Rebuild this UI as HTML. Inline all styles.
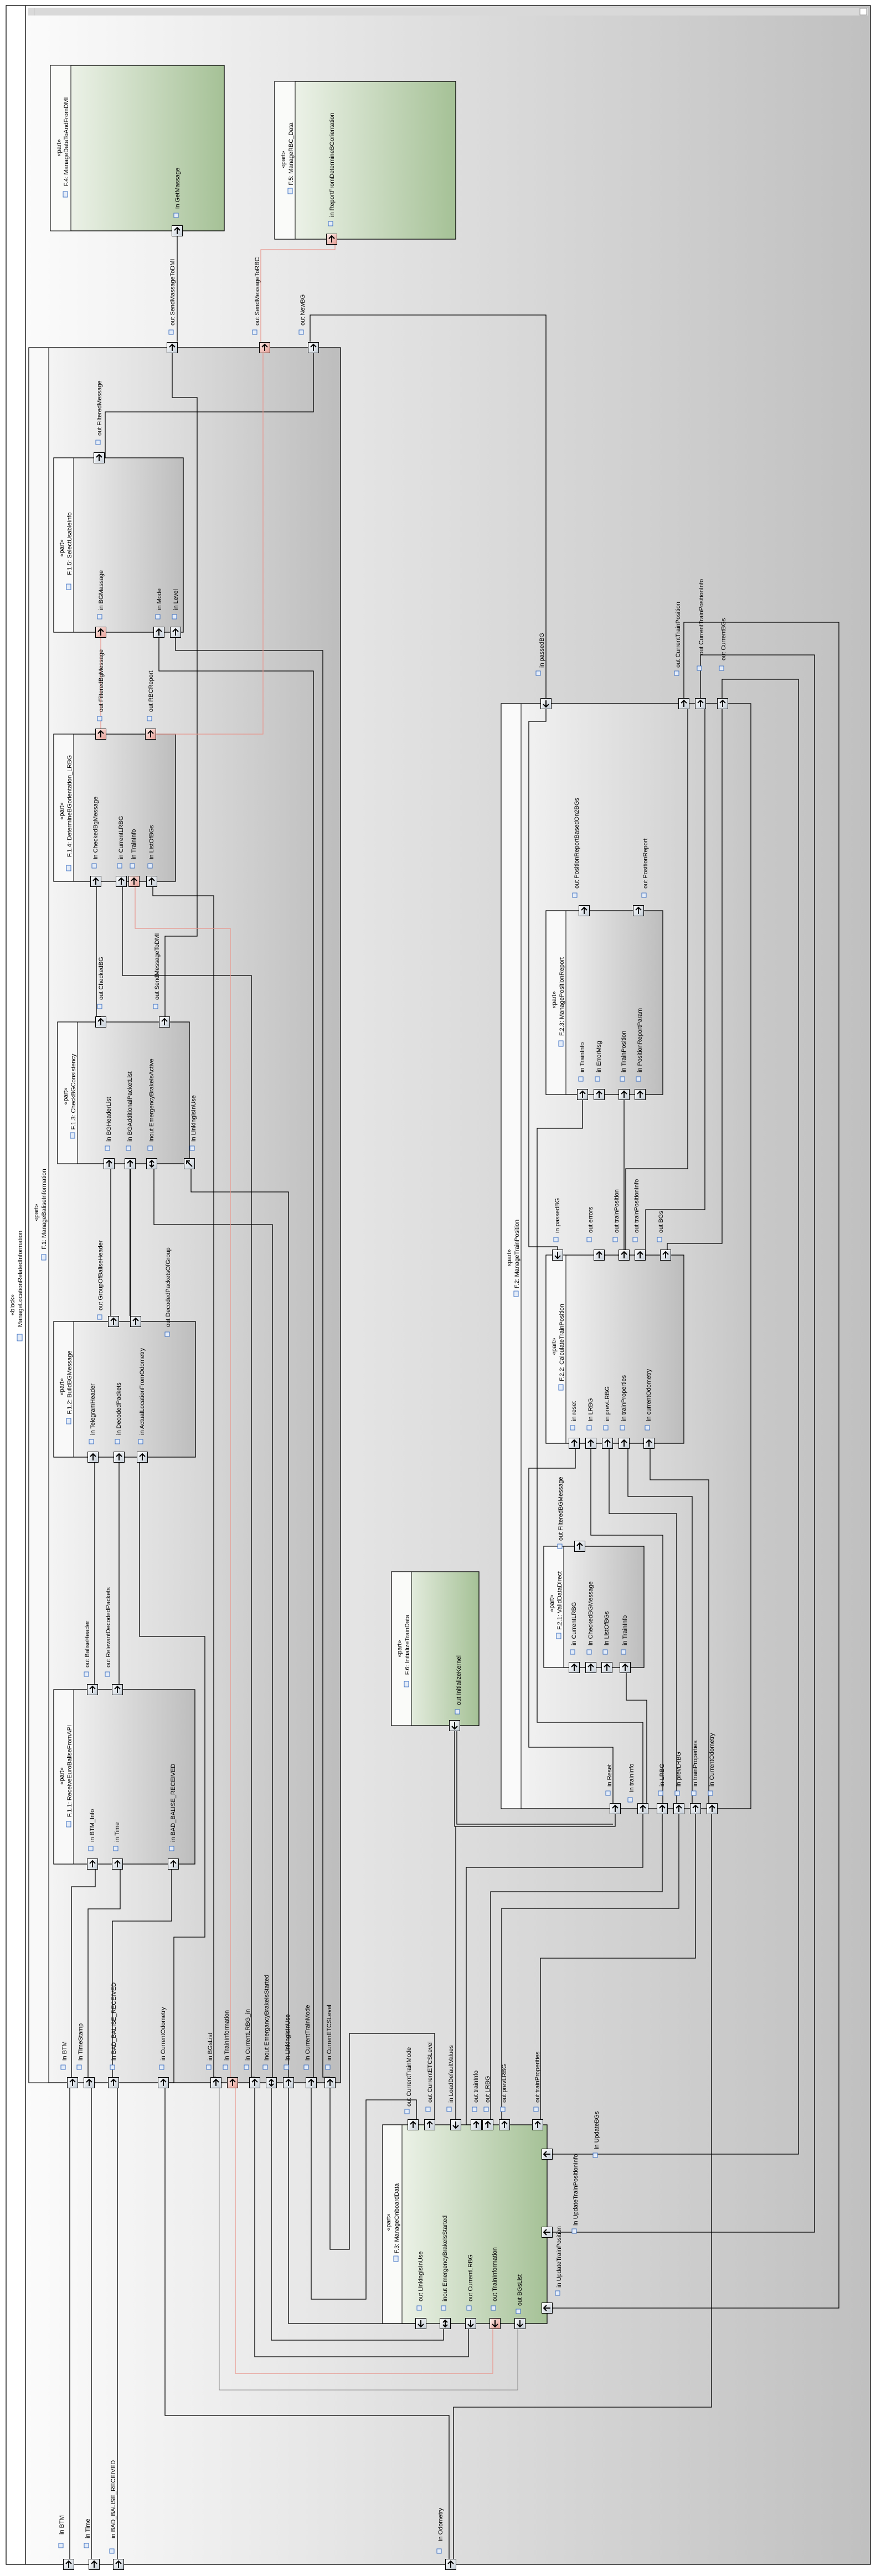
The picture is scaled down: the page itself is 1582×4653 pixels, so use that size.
<!DOCTYPE html>
<html><head><meta charset="utf-8"><style>
html,body{margin:0;padding:0;background:#fff}
svg{display:block}
text{font-family:"Liberation Sans","DejaVu Sans",sans-serif;font-size:11px;fill:#000}
.w{fill:none;stroke:#000;stroke-width:1.3}
.r{fill:none;stroke:#e8958c;stroke-width:1.2}
.g{fill:none;stroke:#888;stroke-width:1}
.ic{fill:#e4ecf8;stroke:#3b6fc2;stroke-width:1}
</style></head><body>
<svg width="1582" height="4653" viewBox="0 0 1582 4653" xmlns="http://www.w3.org/2000/svg">
<defs>
<linearGradient id="bg" x1="0" x2="1" y1="0" y2="0"><stop offset="0" stop-color="#fbfbfb"/><stop offset="1" stop-color="#c0c0c0"/></linearGradient>
<linearGradient id="gpart" x1="0" x2="1" y1="0" y2="0"><stop offset="0" stop-color="#f8f8f8"/><stop offset="1" stop-color="#bdbdbd"/></linearGradient>
<linearGradient id="gf2" x1="0" x2="1" y1="0" y2="0"><stop offset="0" stop-color="#f6f6f6"/><stop offset="1" stop-color="#c6c6c6"/></linearGradient>
<linearGradient id="ggr" x1="0" x2="1" y1="0" y2="0"><stop offset="0" stop-color="#f5f8f2"/><stop offset="1" stop-color="#a5c196"/></linearGradient>
<linearGradient id="gp" x1="0" x2="1" y1="0" y2="1"><stop offset="0" stop-color="#ffffff"/><stop offset="1" stop-color="#c3ccd6"/></linearGradient>
<linearGradient id="gpr" x1="0" x2="1" y1="0" y2="1"><stop offset="0" stop-color="#fdeeea"/><stop offset="1" stop-color="#e69d94"/></linearGradient>
<g id="pu"><rect x="-9.5" y="-9.5" width="19" height="19" fill="url(#gp)" stroke="#000"/><path d="M0 6V-6M-5 -1L0 -6L5 -1" stroke="#000" stroke-width="2" fill="none"/></g>
<g id="pur"><rect x="-9.5" y="-9.5" width="19" height="19" fill="url(#gpr)" stroke="#000"/><path d="M0 6V-6M-5 -1L0 -6L5 -1" stroke="#000" stroke-width="2" fill="none"/></g>
<g id="pd"><rect x="-9.5" y="-9.5" width="19" height="19" fill="url(#gp)" stroke="#000"/><path d="M0 -6V6M-5 1L0 6L5 1" stroke="#000" stroke-width="2" fill="none"/></g>
<g id="pdr"><rect x="-9.5" y="-9.5" width="19" height="19" fill="url(#gpr)" stroke="#000"/><path d="M0 -6V6M-5 1L0 6L5 1" stroke="#000" stroke-width="2" fill="none"/></g>
<g id="pl"><rect x="-9.5" y="-9.5" width="19" height="19" fill="url(#gp)" stroke="#000"/><path d="M6 0H-6M-1 -5L-6 0L-1 5" stroke="#000" stroke-width="2" fill="none"/></g>
<g id="pb"><rect x="-9.5" y="-9.5" width="19" height="19" fill="url(#gp)" stroke="#000"/><path d="M0 -6V6M-4 -2L0 -6L4 -2M-4 2L0 6L4 2" stroke="#000" stroke-width="2" fill="none"/></g>
<g id="px"><rect x="-9.5" y="-9.5" width="19" height="19" fill="url(#gp)" stroke="#000"/><path d="M-5 -5L5 5M-5 1V-5H1" stroke="#000" stroke-width="2" fill="none"/></g>
</defs>

<rect x="0" y="0" width="1582" height="4653" fill="#fff"/>
<rect x="46" y="10" width="1526" height="4622" fill="url(#bg)"/>
<rect x="11" y="10" width="1561" height="4622" fill="none" stroke="#000" stroke-width="1.3"/>
<line x1="46" y1="10" x2="46" y2="4632" stroke="#000" stroke-width="1.3"/>
<rect x="51" y="14" width="1517" height="14" fill="#d9d9d9"/>
<line x1="62" y1="14" x2="62" y2="28" stroke="#c8c8c8"/>
<rect x="1553" y="15" width="12" height="12" fill="#fff" stroke="#999"/>
<text transform="translate(26,2357) rotate(-90)" text-anchor="middle">«block»</text>
<text transform="translate(40,2310) rotate(-90)" text-anchor="middle">ManageLocationRelatedInformation</text>
<rect x="31" y="2410" width="9" height="12" class="ic"/>

<rect x="91" y="118" width="314" height="299" fill="url(#ggr)" stroke="#000" stroke-width="1.3"/>
<rect x="91.5" y="118.5" width="36.5" height="298" fill="#fafbf9"/>
<line x1="128" y1="118" x2="128" y2="417" stroke="#000"/>
<text transform="translate(110,267) rotate(-90)" text-anchor="middle">«part»</text>
<text transform="translate(123,256) rotate(-90)" text-anchor="middle">F.4: ManageDataToAndFromDMI</text>
<rect x="114" y="346" width="8" height="10" class="ic"/>
<rect x="496" y="147" width="327" height="285" fill="url(#ggr)" stroke="#000" stroke-width="1.3"/>
<rect x="496.5" y="147.5" width="36.5" height="284" fill="#fafbf9"/>
<line x1="533" y1="147" x2="533" y2="432" stroke="#000"/>
<text transform="translate(515,288) rotate(-90)" text-anchor="middle">«part»</text>
<text transform="translate(529,278) rotate(-90)" text-anchor="middle">F.5: ManageRBC_Data</text>
<rect x="520" y="340" width="8" height="10" class="ic"/>

<rect x="52" y="628" width="563" height="3134" fill="url(#gpart)" stroke="#000" stroke-width="1.3"/>
<rect x="52.5" y="628.5" width="35.5" height="3133" fill="#f9f9f9"/>
<line x1="88" y1="628" x2="88" y2="3762" stroke="#000"/>
<text transform="translate(69,2190) rotate(-90)" text-anchor="middle">«part»</text>
<text transform="translate(83,2184) rotate(-90)" text-anchor="middle">F.1: ManageBaliseInformation</text>
<rect x="75" y="2266" width="8" height="10" class="ic"/>

<g stroke="#000" stroke-width="1.3">
<rect x="97" y="827" width="234" height="315" fill="url(#gpart)"/>
<rect x="97" y="1326" width="220" height="266" fill="url(#gpart)"/>
<rect x="104" y="1846" width="238" height="256" fill="url(#gpart)"/>
<rect x="97" y="2387" width="256" height="245" fill="url(#gpart)"/>
<rect x="97" y="3052" width="255" height="315" fill="url(#gpart)"/>
</g>
<g fill="#f9f9f9">
<rect x="97.7" y="827.7" width="35" height="313.6"/>
<rect x="97.7" y="1326.7" width="35" height="264.6"/>
<rect x="104.7" y="1846.7" width="35" height="254.6"/>
<rect x="97.7" y="2387.7" width="35" height="243.6"/>
<rect x="97.7" y="3052.7" width="35" height="313.6"/>
</g>
<g stroke="#000">
<line x1="133" y1="827" x2="133" y2="1142"/>
<line x1="133" y1="1326" x2="133" y2="1592"/>
<line x1="140" y1="1846" x2="140" y2="2102"/>
<line x1="133" y1="2387" x2="133" y2="2632"/>
<line x1="133" y1="3052" x2="133" y2="3367"/>
</g>
<text transform="translate(115,990) rotate(-90)" text-anchor="middle">«part»</text>
<text transform="translate(129,982) rotate(-90)" text-anchor="middle">F.1.5: SelectUsableInfo</text>
<rect x="120" y="1055" width="8" height="10" class="ic"/>
<text transform="translate(115,1465) rotate(-90)" text-anchor="middle">«part»</text>
<text transform="translate(129,1456) rotate(-90)" text-anchor="middle">F.1.4: DetermineBGorientation_LRBG</text>
<rect x="120" y="1563" width="8" height="10" class="ic"/>
<text transform="translate(122,1980) rotate(-90)" text-anchor="middle">«part»</text>
<text transform="translate(136,1972) rotate(-90)" text-anchor="middle">F.1.3: CheckBGConsistency</text>
<rect x="127" y="2046" width="8" height="10" class="ic"/>
<text transform="translate(115,2505) rotate(-90)" text-anchor="middle">«part»</text>
<text transform="translate(129,2497) rotate(-90)" text-anchor="middle">F.1.2: BuildBGMessage</text>
<rect x="120" y="2562" width="8" height="10" class="ic"/>
<text transform="translate(115,3208) rotate(-90)" text-anchor="middle">«part»</text>
<text transform="translate(129,3199) rotate(-90)" text-anchor="middle">F.1.1: ReceiveEuroBaliseFromAPI</text>
<rect x="120" y="3290" width="8" height="10" class="ic"/>

<rect x="905" y="1271" width="451" height="1996" fill="url(#gf2)" stroke="#000" stroke-width="1.3"/>
<rect x="905.7" y="1271.7" width="35" height="1994.6" fill="#fafafa"/>
<line x1="941" y1="1271" x2="941" y2="3267" stroke="#000"/>
<text transform="translate(923,2272) rotate(-90)" text-anchor="middle">«part»</text>
<text transform="translate(937,2265) rotate(-90)" text-anchor="middle">F.2: ManageTrainPosition</text>
<rect x="928" y="2332" width="8" height="10" class="ic"/>
<g stroke="#000" stroke-width="1.3">
<rect x="986" y="1645" width="211" height="332" fill="url(#gpart)"/>
<rect x="986" y="2267" width="249" height="340" fill="url(#gpart)"/>
<rect x="982" y="2793" width="181" height="219" fill="url(#gpart)"/>
</g>
<g fill="#f9f9f9">
<rect x="986.7" y="1645.7" width="35" height="330.6"/>
<rect x="986.7" y="2267.7" width="35" height="338.6"/>
<rect x="982.7" y="2793.7" width="35" height="217.6"/>
</g>
<g stroke="#000">
<line x1="1022" y1="1645" x2="1022" y2="1977"/>
<line x1="1022" y1="2267" x2="1022" y2="2607"/>
<line x1="1018" y1="2793" x2="1018" y2="3012"/>
</g>
<text transform="translate(1004,1806) rotate(-90)" text-anchor="middle">«part»</text>
<text transform="translate(1018,1800) rotate(-90)" text-anchor="middle">F.2.3: ManagePositionReport</text>
<rect x="1009" y="1880" width="8" height="10" class="ic"/>
<text transform="translate(1004,2432) rotate(-90)" text-anchor="middle">«part»</text>
<text transform="translate(1018,2425) rotate(-90)" text-anchor="middle">F.2.2: CalculateTrainPosition</text>
<rect x="1009" y="2501" width="8" height="10" class="ic"/>
<text transform="translate(1000,2896) rotate(-90)" text-anchor="middle">«part»</text>
<text transform="translate(1014,2891) rotate(-90)" text-anchor="middle">F.2.1: ValidDataDirect</text>
<rect x="1005" y="2950" width="8" height="10" class="ic"/>

<rect x="707" y="2839" width="158" height="278" fill="url(#ggr)" stroke="#000" stroke-width="1.3"/>
<rect x="707.7" y="2839.7" width="35" height="276.6" fill="#fafbf9"/>
<line x1="743" y1="2839" x2="743" y2="3117" stroke="#000"/>
<text transform="translate(725,2978) rotate(-90)" text-anchor="middle">«part»</text>
<text transform="translate(739,2971) rotate(-90)" text-anchor="middle">F.6: InitializeTrainData</text>
<rect x="730" y="3037" width="8" height="10" class="ic"/>

<rect x="691" y="3838" width="297" height="359" fill="url(#ggr)" stroke="#000" stroke-width="1.3"/>
<rect x="691.7" y="3838.7" width="34" height="357.6" fill="#fafbf9"/>
<line x1="726" y1="3838" x2="726" y2="4197" stroke="#000"/>
<text transform="translate(705,4014) rotate(-90)" text-anchor="middle">«part»</text>
<text transform="translate(720,4007) rotate(-90)" text-anchor="middle">F.3: ManageOnboardData</text>
<rect x="711" y="4075" width="8" height="10" class="ic"/>

<g class="w">
<polyline points="320,427 320,617"/>
<polyline points="560,617 560,569 986,569 986,1261"/>
<polyline points="311,637 311,718 356,718 356,1691 298,1691 298,1836"/>
<polyline points="566,637 566,744 190,744 190,827 189,827"/>
<polyline points="287,1152 287,1212 566,1212 566,3762"/>
<polyline points="317,1152 317,1175 583,1175 583,3752 596,3752"/>
<polyline points="174,1602 174,1836 182,1836"/>
<polyline points="221,1602 221,1762 454,1762 454,3752 460,3752"/>
<polyline points="276,1602 276,1618 386,1618 386,3752 390,3752"/>
<polyline points="200,2112 200,2377"/>
<polyline points="235,2112 235,2377" stroke-width="2.2"/>
<polyline points="278,2112 278,2212 492,2212 492,3752"/>
<polyline points="345,2112 345,2153 521,2153 521,3752"/>
<polyline points="171,2642 171,3042"/>
<polyline points="215,2642 215,3042"/>
<polyline points="252,2642 252,2956 370,2956 370,3499 314,3499 314,3762 305,3762"/>
<polyline points="172,3377 172,3408 129,3408 129,3752"/>
<polyline points="217,3377 217,3448 159,3448 159,3752"/>
<polyline points="310,3377 310,3470 203,3470 203,3752"/>
<polyline points="126,3772 126,4622"/>
<polyline points="165,3772 165,4622"/>
<polyline points="212,3772 212,4622"/>
<polyline points="298,3772 298,4363 811,4363 811,4622"/>
<polyline points="1285,3277 1285,4348 819,4348 819,4622"/>
<polyline points="562,3772 562,4153 661,4153 661,3793 752,3793 752,3828"/>
<polyline points="596,3772 596,4063 631,4063 631,3673 785,3673 785,3838 776,3838"/>
<polyline points="521,3772 521,4197 750,4197"/>
<polyline points="490,3772 490,4227 801,4227 801,4207"/>
<polyline points="460,3772 460,4257 846,4257 846,4207"/>
<polyline points="821,3127 821,3299 1111,3299 1111,3277"/>
<polyline points="825,3127 825,3295 1107,3295"/>
<polyline points="823,3299 823,3828"/>
<polyline points="1161,3277 1161,3373 842,3373 842,3838 850,3838"/>
<polyline points="1196,3277 1196,3417 886,3417 886,3828"/>
<polyline points="1226,3277 1226,3447 906,3447 906,3828 911,3828"/>
<polyline points="1256,3277 1256,3537 976,3537 976,3828"/>
<polyline points="998,3891 1442,3891 1442,1227 1304,1227 1304,1261"/>
<polyline points="998,4032 1471,4032 1471,1183 1265,1183 1265,1261"/>
<polyline points="998,4169 1515,4169 1515,1124 1235,1124 1235,1261"/>
<polyline points="986,1281 986,1303 955,1303 955,2252 1007,2252 1007,2257"/>
<polyline points="1039,2617 1039,2652 955,2652 955,3156 1107,3156 1107,3257"/>
<polyline points="1052,1987 1052,2038 970,2038 970,3111 1161,3111 1161,3257"/>
<polyline points="1131,3022 1131,3071 1168,3071 1168,3257"/>
<polyline points="1127,1987 1127,2257"/>
<polyline points="1242,1281 1242,2111 1130,2111 1130,2257"/>
<polyline points="1273,1281 1273,2185 1166,2185 1166,2257"/>
<polyline points="1304,1281 1304,2246 1205,2246 1205,2257"/>
<polyline points="1067,2617 1067,2773 1197,2773 1197,3257"/>
<polyline points="1100,2617 1100,2734 1222,2734 1222,3257"/>
<polyline points="1134,2617 1134,2703 1250,2703 1250,3257"/>
<polyline points="1174,2617 1174,2673 1280,2673 1280,3257"/>
</g>
<g class="r">
<polyline points="605,442 605,451 471,451 471,617"/>
<polyline points="182,1152 182,1316"/>
<polyline points="282,1326 475,1326 475,637"/>
<polyline points="244,1602 244,1677 416,1677 416,3752 420,3752"/>
<polyline points="425,3772 425,4287 890,4287 890,4207"/>
</g>
<polyline class="g" points="396,3772 396,4317 935,4317 935,4207"/>

<use href="#pu" x="320" y="417"/>
<use href="#pur" x="599" y="432"/>
<use href="#pu" x="311" y="628"/><use href="#pur" x="478" y="628"/><use href="#pu" x="566" y="628"/>
<use href="#pu" x="179" y="827"/>
<use href="#pur" x="182" y="1142"/><use href="#pu" x="287" y="1142"/><use href="#pu" x="317" y="1142"/>
<use href="#pur" x="182" y="1326"/><use href="#pur" x="272" y="1326"/>
<use href="#pu" x="173" y="1592"/><use href="#pu" x="219" y="1592"/><use href="#pur" x="242" y="1592"/><use href="#pu" x="274" y="1592"/>
<use href="#pu" x="182" y="1846"/><use href="#pu" x="297" y="1846"/>
<use href="#pu" x="197" y="2102"/><use href="#pu" x="235" y="2102"/><use href="#pb" x="274" y="2102"/><use href="#px" x="342" y="2102"/>
<use href="#pu" x="205" y="2387"/><use href="#pu" x="245" y="2387"/>
<use href="#pu" x="168" y="2632"/><use href="#pu" x="215" y="2632"/><use href="#pu" x="257" y="2632"/>
<use href="#pu" x="167" y="3052"/><use href="#pu" x="212" y="3052"/>
<use href="#pu" x="167" y="3367"/><use href="#pu" x="212" y="3367"/><use href="#pu" x="313" y="3367"/>
<use href="#pu" x="131" y="3762"/><use href="#pu" x="161" y="3762"/><use href="#pu" x="205" y="3762"/><use href="#pu" x="295" y="3762"/><use href="#pu" x="390" y="3762"/><use href="#pur" x="420" y="3762"/><use href="#pu" x="460" y="3762"/><use href="#pb" x="490" y="3762"/><use href="#pu" x="521" y="3762"/><use href="#pu" x="562" y="3762"/><use href="#pu" x="596" y="3762"/>
<use href="#pu" x="124" y="4632"/><use href="#pu" x="170" y="4632"/><use href="#pu" x="214" y="4632"/><use href="#pu" x="814" y="4632"/>
<use href="#pd" x="986" y="1271"/><use href="#pu" x="1235" y="1271"/><use href="#pu" x="1265" y="1271"/><use href="#pu" x="1305" y="1271"/>
<use href="#pu" x="1055" y="1645"/><use href="#pu" x="1153" y="1645"/>
<use href="#pu" x="1052" y="1977"/><use href="#pu" x="1082" y="1977"/><use href="#pu" x="1127" y="1977"/><use href="#pu" x="1156" y="1977"/>
<use href="#pd" x="1007" y="2267"/><use href="#pu" x="1082" y="2267"/><use href="#pu" x="1127" y="2267"/><use href="#pu" x="1156" y="2267"/><use href="#pu" x="1202" y="2267"/>
<use href="#pu" x="1037" y="2607"/><use href="#pu" x="1067" y="2607"/><use href="#pu" x="1097" y="2607"/><use href="#pu" x="1127" y="2607"/><use href="#pu" x="1172" y="2607"/>
<use href="#pu" x="1047" y="2793"/>
<use href="#pu" x="1037" y="3012"/><use href="#pu" x="1067" y="3012"/><use href="#pu" x="1096" y="3012"/><use href="#pu" x="1129" y="3012"/>
<use href="#pd" x="821" y="3117"/>
<use href="#pu" x="1111" y="3267"/><use href="#pu" x="1161" y="3267"/><use href="#pu" x="1196" y="3267"/><use href="#pu" x="1226" y="3267"/><use href="#pu" x="1256" y="3267"/><use href="#pu" x="1286" y="3267"/>
<use href="#pu" x="746" y="3838"/><use href="#pu" x="776" y="3838"/><use href="#pd" x="823" y="3838"/><use href="#pu" x="860" y="3838"/><use href="#pu" x="881" y="3838"/><use href="#pu" x="911" y="3838"/><use href="#pu" x="971" y="3838"/>
<use href="#pd" x="760" y="4197"/><use href="#pb" x="804" y="4197"/><use href="#pd" x="850" y="4197"/><use href="#pdr" x="894" y="4197"/><use href="#pd" x="939" y="4197"/>
<use href="#pl" x="988" y="3891"/><use href="#pl" x="988" y="4032"/><use href="#pl" x="988" y="4169"/>

<g>
<text transform="translate(324,377) rotate(-90)">in GetMassage</text><rect class="ic" x="314" y="385" width="8" height="8"/>
<text transform="translate(603,392) rotate(-90)">in ReportFromDetermineBGorientation</text><rect class="ic" x="593" y="400" width="8" height="8"/>
<text transform="translate(315,588) rotate(-90)">out SendMassageToDMI</text><rect class="ic" x="305" y="596" width="8" height="8"/>
<text transform="translate(468,588) rotate(-90)">out SendMessageToRBC</text><rect class="ic" x="456" y="596" width="8" height="8"/>
<text transform="translate(550,588) rotate(-90)">out NewBG</text><rect class="ic" x="540" y="596" width="8" height="8"/>
<text transform="translate(183,787) rotate(-90)">out FilteredMessage</text><rect class="ic" x="173" y="795" width="8" height="8"/>
<text transform="translate(186,1102) rotate(-90)">in BGMassage</text><rect class="ic" x="176" y="1110" width="8" height="8"/>
<text transform="translate(291,1102) rotate(-90)">in Mode</text><rect class="ic" x="281" y="1110" width="8" height="8"/>
<text transform="translate(321,1102) rotate(-90)">in Level</text><rect class="ic" x="311" y="1110" width="8" height="8"/>
<text transform="translate(186,1286) rotate(-90)">out FilteredBgMessage</text><rect class="ic" x="176" y="1294" width="8" height="8"/>
<text transform="translate(276,1286) rotate(-90)">out RBCReport</text><rect class="ic" x="266" y="1294" width="8" height="8"/>
<text transform="translate(176,1552) rotate(-90)">in CheckedBgMessage</text><rect class="ic" x="166" y="1560" width="8" height="8"/>
<text transform="translate(222,1552) rotate(-90)">in CurrentLRBG</text><rect class="ic" x="212" y="1560" width="8" height="8"/>
<text transform="translate(245,1552) rotate(-90)">in TrainInfo</text><rect class="ic" x="235" y="1560" width="8" height="8"/>
<text transform="translate(277,1552) rotate(-90)">in ListOfBGs</text><rect class="ic" x="267" y="1560" width="8" height="8"/>
<text transform="translate(186,1806) rotate(-90)">out CheckedBG</text><rect class="ic" x="176" y="1814" width="8" height="8"/>
<text transform="translate(287,1806) rotate(-90)">out SendMessageToDMI</text><rect class="ic" x="277" y="1814" width="8" height="8"/>
<text transform="translate(200,2062) rotate(-90)">in BGHeaderList</text><rect class="ic" x="190" y="2070" width="8" height="8"/>
<text transform="translate(238,2062) rotate(-90)">in BGAdditionalPacketList</text><rect class="ic" x="228" y="2070" width="8" height="8"/>
<text transform="translate(277,2062) rotate(-90)">inout EmergencyBrakeIsActive</text><rect class="ic" x="267" y="2070" width="8" height="8"/>
<text transform="translate(353,2062) rotate(-90)">in LinkingIsInUse</text><rect class="ic" x="343" y="2070" width="8" height="8"/>
<text transform="translate(185,2367) rotate(-90)">out GroupOfBaliseHeader</text><rect class="ic" x="176" y="2375" width="8" height="8"/>
<text transform="translate(307,2397) rotate(-90)">out DecodedPacketsOfGroup</text><rect class="ic" x="298" y="2406" width="8" height="8"/>
<text transform="translate(171,2592) rotate(-90)">in TelegramHeader</text><rect class="ic" x="161" y="2600" width="8" height="8"/>
<text transform="translate(218,2592) rotate(-90)">in DecodedPackets</text><rect class="ic" x="208" y="2600" width="8" height="8"/>
<text transform="translate(260,2592) rotate(-90)">in ActualLocationFromOdometry</text><rect class="ic" x="250" y="2600" width="8" height="8"/>
<text transform="translate(161,3012) rotate(-90)">out BaliseHeader</text><rect class="ic" x="152" y="3020" width="8" height="8"/>
<text transform="translate(199,3012) rotate(-90)">out RelevantDecodedPackets</text><rect class="ic" x="190" y="3020" width="8" height="8"/>
<text transform="translate(170,3327) rotate(-90)">in BTM_Info</text><rect class="ic" x="160" y="3335" width="8" height="8"/>
<text transform="translate(215,3327) rotate(-90)">in Time</text><rect class="ic" x="205" y="3335" width="8" height="8"/>
<text transform="translate(316,3327) rotate(-90)">in BAD_BALISE_RECEIVED</text><rect class="ic" x="306" y="3335" width="8" height="8"/>
<text transform="translate(120,3722) rotate(-90)">in BTM</text><rect class="ic" x="110" y="3730" width="8" height="8"/>
<text transform="translate(149,3722) rotate(-90)">in TimeStamp</text><rect class="ic" x="139" y="3730" width="8" height="8"/>
<text transform="translate(209,3722) rotate(-90)">in BAD_BALISE_RECEIVED</text><rect class="ic" x="199" y="3730" width="8" height="8"/>
<text transform="translate(298,3722) rotate(-90)">in CurrentOdometry</text><rect class="ic" x="288" y="3730" width="8" height="8"/>
<text transform="translate(383,3722) rotate(-90)">in BGsList</text><rect class="ic" x="373" y="3730" width="8" height="8"/>
<text transform="translate(413,3722) rotate(-90)">in TrainInformation</text><rect class="ic" x="403" y="3730" width="8" height="8"/>
<text transform="translate(451,3722) rotate(-90)">in CurrentLRBG_in</text><rect class="ic" x="441" y="3730" width="8" height="8"/>
<text transform="translate(485,3722) rotate(-90)">inout EmergancyBrakeIsStarted</text><rect class="ic" x="475" y="3730" width="8" height="8"/>
<text transform="translate(523,3722) rotate(-90)">in LinkingIsInUse</text><rect class="ic" x="513" y="3730" width="8" height="8"/>
<text transform="translate(559,3722) rotate(-90)">in CurrentTrainMode</text><rect class="ic" x="549" y="3730" width="8" height="8"/>
<text transform="translate(598,3722) rotate(-90)">in CurrenETCSLevel</text><rect class="ic" x="588" y="3730" width="8" height="8"/>
<text transform="translate(115,4578) rotate(-90)">in BTM</text><rect class="ic" x="106" y="4594" width="8" height="8"/>
<text transform="translate(162,4585) rotate(-90)">in Time</text><rect class="ic" x="152" y="4594" width="8" height="8"/>
<text transform="translate(208,4585) rotate(-90)">in BAD_BALISE_RECEIVED</text><rect class="ic" x="198" y="4604" width="8" height="8"/>
<text transform="translate(799,4590) rotate(-90)">in Odometry</text><rect class="ic" x="789" y="4604" width="8" height="8"/>
<text transform="translate(982,1206) rotate(-90)">in passedBG</text><rect class="ic" x="968" y="1212" width="8" height="8"/>
<text transform="translate(1228,1206) rotate(-90)">out CurrentTrainPosition</text><rect class="ic" x="1218" y="1212" width="8" height="8"/>
<text transform="translate(1270,1183) rotate(-90)">out CurrentTrainPositionInfo</text><rect class="ic" x="1259" y="1203" width="8" height="8"/>
<text transform="translate(1310,1193) rotate(-90)">out CurrentBGs</text><rect class="ic" x="1299" y="1203" width="8" height="8"/>
<text transform="translate(1045,1605) rotate(-90)">out PositionReportBasedOn2BGs</text><rect class="ic" x="1034" y="1613" width="8" height="8"/>
<text transform="translate(1169,1605) rotate(-90)">out PositionReport</text><rect class="ic" x="1159" y="1613" width="8" height="8"/>
<text transform="translate(1055,1937) rotate(-90)">in TrainInfo</text><rect class="ic" x="1045" y="1945" width="8" height="8"/>
<text transform="translate(1085,1937) rotate(-90)">in ErrorMsg</text><rect class="ic" x="1075" y="1945" width="8" height="8"/>
<text transform="translate(1130,1937) rotate(-90)">in TrainPosition</text><rect class="ic" x="1120" y="1945" width="8" height="8"/>
<text transform="translate(1159,1937) rotate(-90)">in PositionReportParam</text><rect class="ic" x="1149" y="1945" width="8" height="8"/>
<text transform="translate(1010,2227) rotate(-90)">in passedBG</text><rect class="ic" x="1000" y="2235" width="8" height="8"/>
<text transform="translate(1070,2227) rotate(-90)">out errors</text><rect class="ic" x="1060" y="2235" width="8" height="8"/>
<text transform="translate(1117,2227) rotate(-90)">out trainPosition</text><rect class="ic" x="1107" y="2235" width="8" height="8"/>
<text transform="translate(1153,2227) rotate(-90)">out trainPositionInfo</text><rect class="ic" x="1143" y="2235" width="8" height="8"/>
<text transform="translate(1197,2227) rotate(-90)">out BGs</text><rect class="ic" x="1187" y="2235" width="8" height="8"/>
<text transform="translate(1040,2567) rotate(-90)">in reset</text><rect class="ic" x="1030" y="2575" width="8" height="8"/>
<text transform="translate(1070,2567) rotate(-90)">in LRBG</text><rect class="ic" x="1060" y="2575" width="8" height="8"/>
<text transform="translate(1100,2567) rotate(-90)">in prevLRBG</text><rect class="ic" x="1090" y="2575" width="8" height="8"/>
<text transform="translate(1130,2567) rotate(-90)">in trainProperties</text><rect class="ic" x="1120" y="2575" width="8" height="8"/>
<text transform="translate(1175,2567) rotate(-90)">in currentOdometry</text><rect class="ic" x="1165" y="2575" width="8" height="8"/>
<text transform="translate(1016,2783) rotate(-90)">out FilteredBGMessage</text><rect class="ic" x="1007" y="2789" width="8" height="8"/>
<text transform="translate(1040,2972) rotate(-90)">in CurrentLRBG</text><rect class="ic" x="1030" y="2980" width="8" height="8"/>
<text transform="translate(1070,2972) rotate(-90)">in CheckedBGMessage</text><rect class="ic" x="1060" y="2980" width="8" height="8"/>
<text transform="translate(1099,2972) rotate(-90)">in ListOfBGs</text><rect class="ic" x="1089" y="2980" width="8" height="8"/>
<text transform="translate(1132,2972) rotate(-90)">in TrainInfo</text><rect class="ic" x="1122" y="2980" width="8" height="8"/>
<text transform="translate(832,3080) rotate(-90)">out InitializeKernel</text><rect class="ic" x="822" y="3088" width="8" height="8"/>
<text transform="translate(1104,3227) rotate(-90)">in Reset</text><rect class="ic" x="1094" y="3235" width="8" height="8"/>
<text transform="translate(1144,3237) rotate(-90)">in trainInfo</text><rect class="ic" x="1134" y="3247" width="8" height="8"/>
<text transform="translate(1199,3227) rotate(-90)">in LRBG</text><rect class="ic" x="1189" y="3235" width="8" height="8"/>
<text transform="translate(1229,3227) rotate(-90)">in prevLRBG</text><rect class="ic" x="1219" y="3235" width="8" height="8"/>
<text transform="translate(1259,3227) rotate(-90)">in trainProperties</text><rect class="ic" x="1249" y="3235" width="8" height="8"/>
<text transform="translate(1289,3227) rotate(-90)">in CurrentOdometry</text><rect class="ic" x="1279" y="3235" width="8" height="8"/>
<text transform="translate(742,3805) rotate(-90)">out CurrentTrainMode</text><rect class="ic" x="731" y="3810" width="8" height="8"/>
<text transform="translate(780,3798) rotate(-90)">out CurrentETCSLevel</text><rect class="ic" x="769" y="3806" width="8" height="8"/>
<text transform="translate(818,3798) rotate(-90)">in LoadDefaultValues</text><rect class="ic" x="807" y="3806" width="8" height="8"/>
<text transform="translate(863,3798) rotate(-90)">out trainInfo</text><rect class="ic" x="853" y="3806" width="8" height="8"/>
<text transform="translate(884,3798) rotate(-90)">out LRBG</text><rect class="ic" x="874" y="3806" width="8" height="8"/>
<text transform="translate(914,3798) rotate(-90)">out prevLRBG</text><rect class="ic" x="904" y="3806" width="8" height="8"/>
<text transform="translate(974,3798) rotate(-90)">out trainProperities</text><rect class="ic" x="964" y="3806" width="8" height="8"/>
<text transform="translate(763,4157) rotate(-90)">out LinkingIsInUse</text><rect class="ic" x="753" y="4165" width="8" height="8"/>
<text transform="translate(807,4157) rotate(-90)">inout EmergencyBrakeIsStarted</text><rect class="ic" x="797" y="4165" width="8" height="8"/>
<text transform="translate(853,4157) rotate(-90)">out CurrentLRBG</text><rect class="ic" x="843" y="4165" width="8" height="8"/>
<text transform="translate(897,4157) rotate(-90)">out TrainInformation</text><rect class="ic" x="887" y="4165" width="8" height="8"/>
<text transform="translate(942,4165) rotate(-90)">out BGsList</text><rect class="ic" x="932" y="4171" width="8" height="8"/>
<text transform="translate(1081,3882) rotate(-90)">in UpdateBGs</text><rect class="ic" x="1071" y="3889" width="8" height="8"/>
<text transform="translate(1043,4020) rotate(-90)">in UpdateTrainPositionInfo</text><rect class="ic" x="1033" y="4026" width="8" height="8"/>
<text transform="translate(1013,4132) rotate(-90)">in UpdateTrainPosition</text><rect class="ic" x="1003" y="4138" width="8" height="8"/>
</g>
</svg>
</body></html>
